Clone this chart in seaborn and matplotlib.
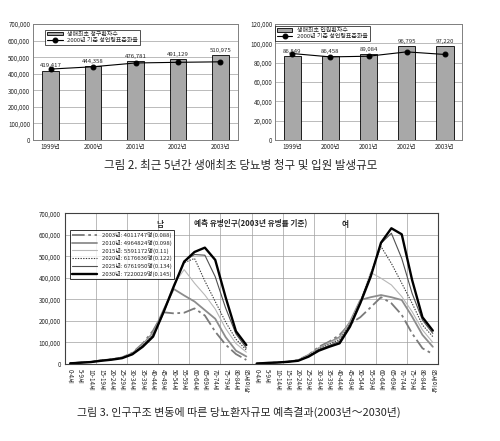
import matplotlib
matplotlib.use("Agg")
import numpy as np
import pandas as pd
import seaborn as sns
import matplotlib.pyplot as plt
from matplotlib.ticker import FuncFormatter, MultipleLocator

# ---------------- data ----------------
years = ["1999년", "2000년", "2001년", "2002년", "2003년"]
claims = [419417, 444358, 476781, 491129, 510975]
claims_rate = [73.4, 75.8, 79.7, 80.4, 80.9]          # hidden axis, 0-120
admits = [86849, 86458, 89084, 96795, 97220]
admits_rate = [89.5, 86.0, 86.7, 91.2, 88.5]          # hidden axis, 0-120k scale (thousands)

ages = ["0-4세", "5-9세", "10-14세", "15-19세", "20-24세", "25-29세", "30-34세",
        "35-39세", "40-44세", "45-49세", "50-54세", "55-59세", "60-64세", "65-69세",
        "70-74세", "75-79세", "80-84세", "85세이상"]

series_labels = ["2003년: 4011747명(0.088)", "2010년: 4964824명(0.098)",
                 "2015년: 5591172명(0.11)", "2020년: 6176636명(0.122)",
                 "2025년: 6761950명(0.134)", "2030년: 7220029명(0.145)"]

# thousands of persons
male_2003 = [3, 7, 10, 17, 22, 30, 52, 95, 155, 240, 235, 238, 258, 225, 150, 90, 46, 19]
male_2010 = [3, 7, 10, 17, 22, 30, 50, 90, 145, 250, 348, 318, 290, 250, 210, 125, 62, 35]
male_2015 = [3, 7, 10, 17, 22, 30, 48, 88, 140, 245, 370, 438, 375, 320, 255, 165, 95, 55]
male_2020 = [3, 7, 10, 17, 22, 29, 47, 85, 135, 238, 362, 470, 490, 385, 290, 195, 115, 65]
male_2025 = [3, 7, 10, 16, 21, 28, 45, 84, 130, 235, 358, 478, 508, 505, 405, 260, 140, 74]
male_2030 = [3, 6, 9, 15, 20, 27, 45, 80, 127, 240, 360, 475, 520, 540, 483, 310, 152, 88]

female_2003 = [2, 5, 7, 11, 19, 42, 80, 104, 135, 186, 217, 263, 310, 282, 228, 142, 73, 46]
female_2010 = [2, 5, 7, 11, 18, 40, 74, 100, 125, 195, 297, 310, 320, 310, 297, 220, 135, 80]
female_2015 = [2, 5, 7, 11, 18, 40, 73, 97, 120, 190, 290, 425, 398, 367, 313, 243, 158, 100]
female_2020 = [2, 5, 7, 11, 17, 38, 70, 92, 112, 185, 288, 420, 545, 467, 375, 282, 181, 127]
female_2025 = [2, 5, 7, 10, 16, 36, 66, 86, 105, 180, 285, 410, 560, 607, 490, 328, 204, 142]
female_2030 = [2, 5, 7, 10, 15, 34, 62, 80, 96, 173, 282, 405, 563, 630, 602, 390, 217, 155]

male = [male_2003, male_2010, male_2015, male_2020, male_2025, male_2030]
female = [female_2003, female_2010, female_2015, female_2020, female_2025, female_2030]

# ---------------- style ----------------
sns.set_style("white")
plt.rcParams["font.family"] = ["Noto Sans CJK KR", "DejaVu Sans"]
plt.rcParams["axes.unicode_minus"] = False

comma = FuncFormatter(lambda v, p: f"{v:,.0f}")
fig = plt.figure(figsize=(5, 4.41), dpi=100)

bar_color = "#a8a8a8"
spine_col = "#808080"


def top_chart(rect, values, rates, ymax, ystep, bar_label, bar_w, leg_anchor):
    ax = fig.add_axes(rect)
    sns.barplot(x=years, y=values, ax=ax, color=bar_color, edgecolor="black",
                linewidth=0.6, width=bar_w, saturation=1, label=bar_label)
    ax.set_ylim(0, ymax)
    ax.yaxis.set_major_locator(MultipleLocator(ystep))
    ax.yaxis.set_major_formatter(comma)
    ax.grid(axis="y", color="#a0a0a0", lw=0.5)
    ax.set_axisbelow(True)
    ax.set_xlabel("")
    ax.set_ylabel("")
    ax.tick_params(axis="both", labelsize=4.5, length=0, pad=2)
    for s in ax.spines.values():
        s.set_color(spine_col)
        s.set_linewidth(0.7)
    ax.bar_label(ax.containers[0], labels=[f"{v:,}" for v in values],
                 fontsize=4.3, padding=1.5)
    tw = ax.twinx()
    sns.lineplot(x=np.arange(len(years)), y=rates, ax=tw, color="black", lw=0.8,
                 marker="o", markersize=3.5, markeredgecolor="black",
                 label="2000년 기준 성연령표준화율")
    tw.set_ylim(0, 120)
    tw.set_yticks([])
    tw.set_ylabel("")
    for s in tw.spines.values():
        s.set_visible(False)
    h1, l1 = ax.get_legend_handles_labels()
    h2, l2 = tw.get_legend_handles_labels()
    if ax.get_legend():
        ax.get_legend().remove()
    if tw.get_legend():
        tw.get_legend().remove()
    leg = tw.legend(h1 + h2, l1 + l2, loc="upper left", bbox_to_anchor=leg_anchor,
                    fontsize=4.3, frameon=True, fancybox=False, edgecolor="black",
                    borderpad=0.3, labelspacing=0.2, handlelength=2.6,
                    handleheight=0.6, borderaxespad=0)
    leg.get_frame().set_linewidth(0.6)
    return ax


top_chart([0.066, 0.6825, 0.41, 0.263], claims, claims_rate, 700000, 100000,
          "생애최초 청구환자수", 0.39, (0.06, 0.95))
top_chart([0.55, 0.6825, 0.374, 0.263], admits, admits_rate, 120000, 20000,
          "생애최초 입원환자수", 0.45, (0.0, 0.98))

fig.text(0.482, 1 - 165 / 441, "그림 2. 최근 5년간 생애최초 당뇨병 청구 및 입원 발생규모",
         ha="center", va="center", fontsize=8.3)

# ---------------- bottom chart ----------------
ax3 = fig.add_axes([0.13, 0.1746, 0.746, 0.342])
styles = [
    dict(color="#7a7a7a", lw=1.3, linestyle=(0, (7, 2, 1.5, 2))),
    dict(color="#8c8c8c", lw=1.3, linestyle="-"),
    dict(color="#b8b8b8", lw=0.8, linestyle="-"),
    dict(color="#3a3a3a", lw=0.8, linestyle=(0, (1.2, 1.2))),
    dict(color="#505050", lw=0.8, linestyle="-"),
    dict(color="#000000", lw=1.7, linestyle="-"),
]
n = len(ages)
for k in range(6):
    sns.lineplot(x=np.arange(n), y=np.array(male[k]) * 1000, ax=ax3,
                 label=series_labels[k], **styles[k])
    sns.lineplot(x=np.arange(n, 2 * n), y=np.array(female[k]) * 1000, ax=ax3,
                 legend=False, **styles[k])

ax3.set_xlim(-0.5, 2 * n - 0.5)
ax3.set_ylim(0, 700000)
ax3.yaxis.set_major_locator(MultipleLocator(100000))
ax3.yaxis.set_major_formatter(comma)
ax3.set_xticks(np.arange(2 * n))
ax3.set_xticklabels(ages + ages, rotation=-90, fontsize=4.5)
ax3.set_xticks(np.arange(-0.5, 2 * n, 3), minor=True)
ax3.tick_params(axis="x", which="major", length=2, pad=1.5)
ax3.tick_params(axis="x", which="minor", length=0)
ax3.tick_params(axis="y", labelsize=4.5, length=0, pad=3)
ax3.grid(axis="y", color="#a0a0a0", lw=0.5)
ax3.grid(axis="x", which="minor", color="#a0a0a0", lw=0.5)
ax3.set_axisbelow(True)
ax3.set_xlabel("")
ax3.set_ylabel("")
for s in ax3.spines.values():
    s.set_color("#404040")
    s.set_linewidth(0.8)

leg = ax3.legend(loc="upper left", bbox_to_anchor=(0.013, 0.89), fontsize=4.3,
                 frameon=True, fancybox=False, edgecolor="black", borderpad=0.35,
                 labelspacing=0.3, handlelength=4.2, borderaxespad=0)
leg.get_frame().set_linewidth(0.7)

fig.text(160 / 500, 1 - 224 / 441, "남", ha="center", va="center", fontsize=5.5,
         fontweight="bold")
fig.text(251 / 500, 1 - 224 / 441, "예측 유병인구(2003년 유병률 기준)", ha="center",
         va="center", fontsize=5.5, fontweight="bold")
fig.text(345 / 500, 1 - 224 / 441, "여", ha="center", va="center", fontsize=5.5,
         fontweight="bold")

fig.text(0.478, 1 - 412 / 441,
         "그림 3. 인구구조 변동에 따른 당뇨환자규모 예측결과(2003년～2030년)",
         ha="center", va="center", fontsize=7.9)

fig.savefig("out.png", dpi=100)
